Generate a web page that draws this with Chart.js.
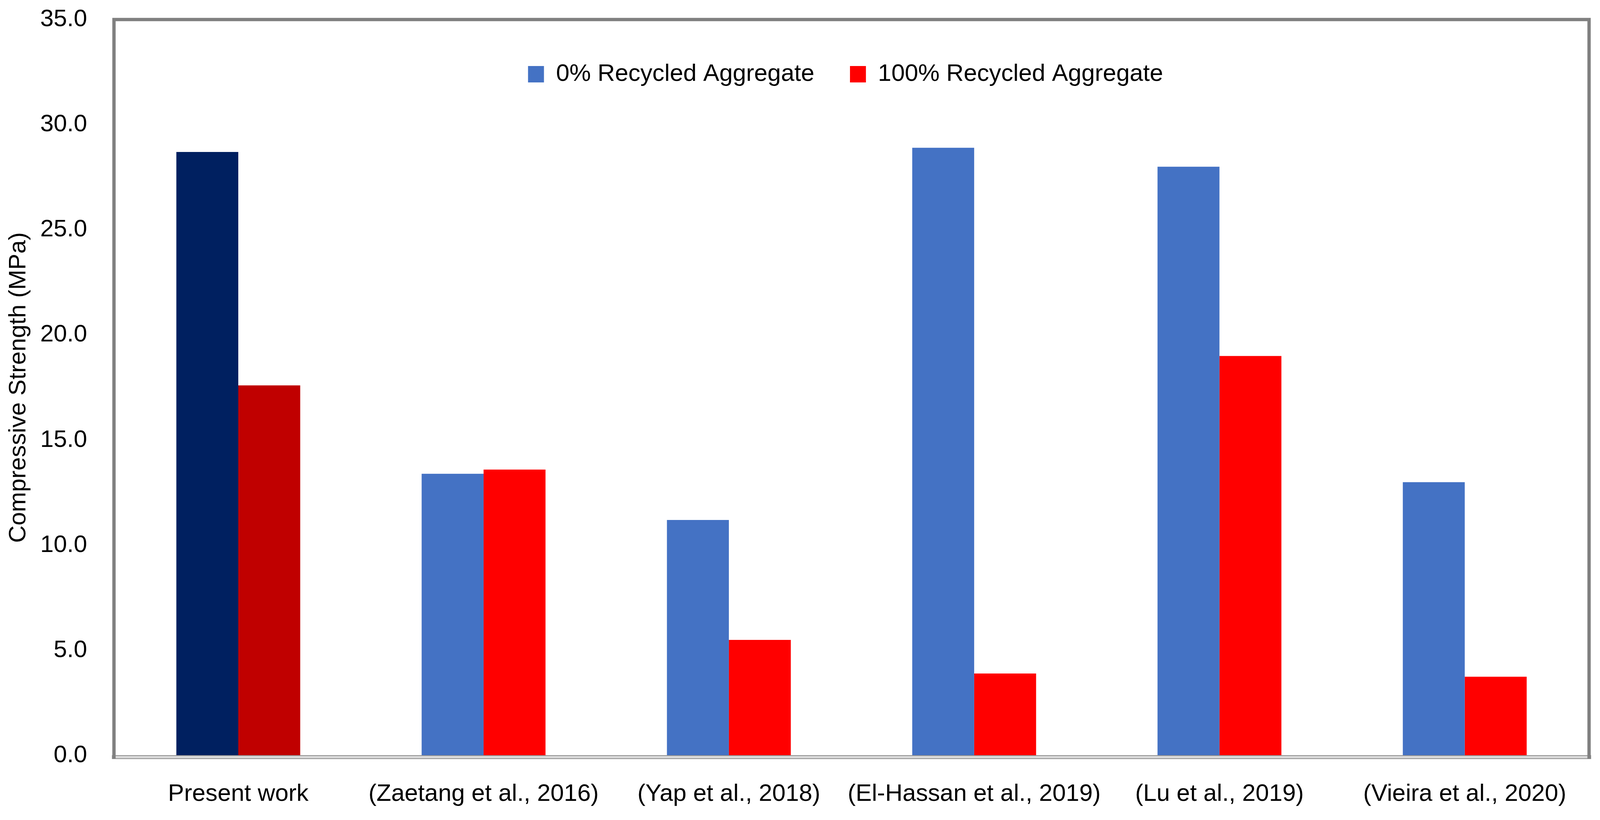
<!DOCTYPE html>
<html>
<head>
<meta charset="utf-8">
<script src="https://cdn.jsdelivr.net/npm/chart.js@4"></script>
<style>
  html, body { margin: 0; padding: 0; overflow: hidden; background: #fff; }
  canvas { display: block; }
</style>
</head>
<body>
<canvas id="strengthChart"></canvas>
<script>
// Chart data
const studies = ['Present work', '(Zaetang et al., 2016)', '(Yap et al., 2018)',
  '(El-Hassan et al., 2019)', '(Lu et al., 2019)', '(Vieira et al., 2020)'];
const natural = [28.7, 13.4, 11.2, 28.9, 28.0, 13.0];   // 0% recycled aggregate
const recycled = [17.6, 13.6, 5.5, 3.9, 19.0, 3.75];    // 100% recycled aggregate
const yTicks = [0, 5, 10, 15, 20, 25, 30, 35];

const FONT = "'Liberation Sans', Arial, sans-serif";

// fit the page, whatever the real viewport is (design size 4317 x 2099)
const W = window.innerWidth, H = window.innerHeight;
const kx = W / 4317, ky = H / 2099;
const canvas = document.getElementById('strengthChart');
canvas.width = W;
canvas.height = H;

// gray frame + floor band around the plot area
const framePlugin = {
  id: 'frame',
  afterLayout(chart) {
    // put the legend row inside the plot area, near the top
    const lg = chart.legend, a = chart.chartArea;
    lg.left = a.left - 16 * kx;
    lg.right = a.right - 16 * kx;
    lg.top = a.top + 18 * ky;
    lg.bottom = lg.top + lg.height;
  },
  afterDatasetsDraw(chart) {
    const { ctx, chartArea: a } = chart;
    const t = 9 * kx, band = 8 * ky;
    ctx.save();
    ctx.fillStyle = '#d9d9d9';
    ctx.fillRect(a.left - t, a.bottom, a.right - a.left + 2 * t, band);
    ctx.strokeStyle = '#8c8c8c';
    ctx.lineWidth = 2 * kx;
    ctx.strokeRect(a.left - t, a.bottom, a.right - a.left + 2 * t, band);
    ctx.strokeStyle = '#808080';
    ctx.lineWidth = t;
    ctx.beginPath();
    ctx.moveTo(a.left - t / 2, a.bottom + band);
    ctx.lineTo(a.left - t / 2, a.top);
    ctx.lineTo(a.right + t / 2, a.top);
    ctx.lineTo(a.right + t / 2, a.bottom + band);
    ctx.stroke();
    ctx.restore();
  }
};

const fs = 65 * kx;

const chart = new Chart(canvas.getContext('2d'), {
  type: 'bar',
  data: {
    labels: studies,
    datasets: [{
      label: '0% Recycled Aggregate',
      data: natural,
      backgroundColor: c => c.dataIndex === 0 ? '#002060' : '#4472C4',
      borderWidth: 0
    }, {
      label: '100% Recycled Aggregate',
      data: recycled,
      backgroundColor: c => c.dataIndex === 0 ? '#C00000' : '#FF0000',
      borderWidth: 0
    }]
  },
  options: {
    responsive: false,
    animation: false,
    layout: { padding: { left: 0, right: 34 * kx, top: 50 * ky, bottom: 0 } },
    datasets: { bar: { categoryPercentage: 0.505, barPercentage: 1.0 } },
    plugins: {
      tooltip: { enabled: false },
      legend: {
        position: 'chartArea',
        fullSize: false,
        align: 'center',
        labels: {
          boxWidth: 43 * kx,
          boxHeight: 42 * ky,
          padding: 96 * kx,
          color: '#000',
          font: { family: FONT, size: fs },
          generateLabels: ch => ch.data.datasets.map((ds, i) => ({
            text: ds.label,
            fillStyle: i === 0 ? '#4472C4' : '#FF0000',
            strokeStyle: 'rgba(0,0,0,0)',
            lineWidth: 0,
            datasetIndex: i
          }))
        }
      }
    },
    scales: {
      x: {
        grid: { display: false, drawTicks: false },
        border: { display: false },
        ticks: { color: '#000', font: { family: FONT, size: fs }, padding: 62 * ky, maxRotation: 0, autoSkip: false },
        afterFit: s => { s.height = 165 * ky; }
      },
      y: {
        min: 0,
        max: 35,
        grid: { display: false, drawTicks: false },
        border: { display: false },
        afterBuildTicks: s => { s.ticks = yTicks.map(v => ({ value: v })); },
        ticks: {
          color: '#000',
          font: { family: FONT, size: fs },
          padding: 77 * kx,
          callback: v => v.toFixed(1)
        },
        title: {
          display: true,
          text: 'Compressive Strength (MPa)',
          color: '#000',
          font: { family: FONT, size: fs },
          padding: { top: 12 * kx, bottom: 0 }
        },
        afterFit: s => {
          s.width = 312 * kx;
          s.paddingTop = 0;
          s.paddingBottom = 0;
        }
      }
    }
  },
  plugins: [framePlugin]
});

// lay the legend out as one row
chart.legend.isHorizontal = () => true;
chart.update();
</script>
</body>
</html>
